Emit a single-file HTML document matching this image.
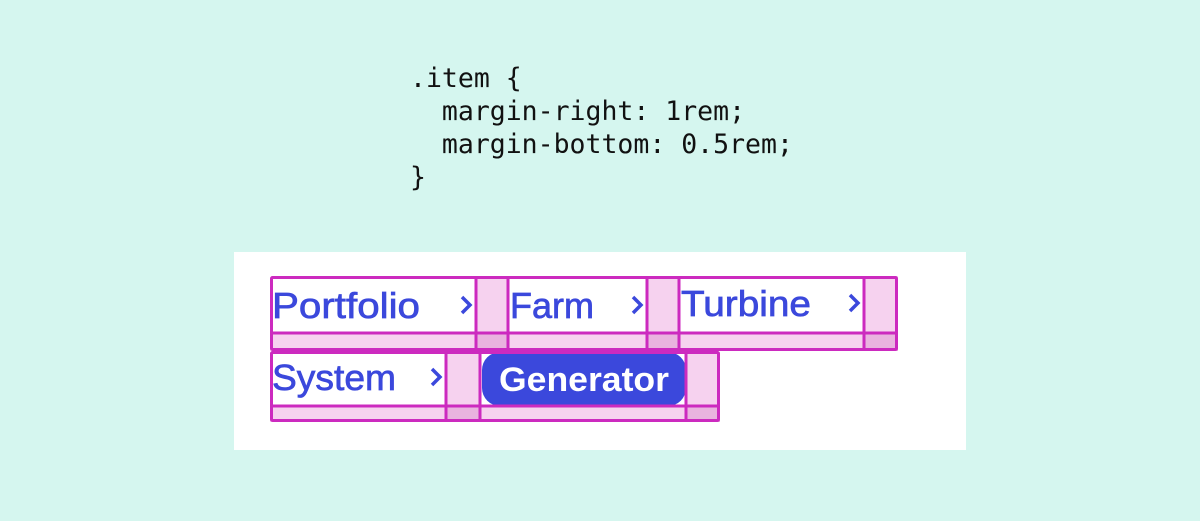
<!DOCTYPE html>
<html><head><meta charset="utf-8"><style>
html,body{margin:0;padding:0;}
body{width:1200px;height:521px;background:#d5f6ef;position:relative;overflow:hidden;}
</style></head><body>
<svg width="1200" height="521" style="position:absolute;left:0;top:0">
<g font-family="DejaVu Sans Mono, Liberation Mono, monospace" font-size="26.5" fill="#111">
<text x="410" y="87" xml:space="preserve">.item {</text>
<text x="410" y="120" xml:space="preserve">  margin-right: 1rem;</text>
<text x="410" y="153" xml:space="preserve">  margin-bottom: 0.5rem;</text>
<text x="410" y="186" xml:space="preserve">}</text>
</g>
<rect x="234" y="252" width="732" height="198" fill="#fff"/>
<g fill="#f6d2ef">
<rect x="270" y="333" width="628" height="18"/>
<rect x="476" y="276" width="32" height="75"/>
<rect x="647" y="276" width="32" height="75"/>
<rect x="864" y="276" width="34" height="75"/>
<rect x="270" y="405" width="450" height="17"/>
<rect x="446" y="352" width="34" height="70"/>
<rect x="686" y="352" width="34" height="70"/>
</g>
<g fill="#e9b3df">
<rect x="476" y="333" width="32" height="18"/>
<rect x="647" y="333" width="32" height="18"/>
<rect x="864" y="333" width="34" height="18"/>
<rect x="446" y="405" width="34" height="17"/>
<rect x="686" y="405" width="34" height="17"/>
</g>
<rect x="482" y="352" width="204" height="54" rx="18" fill="#3b48dc"/>
<g fill="none" stroke="#cc2abf" stroke-width="3">
<rect x="271.5" y="277.5" width="625" height="72" rx="1"/>
<line x1="270" y1="333" x2="898" y2="333"/>
<line x1="476" y1="276" x2="476" y2="351"/>
<line x1="508" y1="276" x2="508" y2="351"/>
<line x1="647" y1="276" x2="647" y2="351"/>
<line x1="679" y1="276" x2="679" y2="351"/>
<line x1="864" y1="276" x2="864" y2="351"/>
<rect x="271.5" y="352.5" width="447" height="68" rx="1"/>
<line x1="270" y1="406" x2="720" y2="406"/>
<line x1="446" y1="352" x2="446" y2="422"/>
<line x1="480" y1="352" x2="480" y2="422"/>
<line x1="686" y1="352" x2="686" y2="422"/>
</g>
<g font-family="Liberation Sans, sans-serif" font-size="36" fill="#3b48dc" stroke="#3b48dc" stroke-width="0.7">
<text x="272" y="318" textLength="148" lengthAdjust="spacingAndGlyphs">Portfolio</text>
<text x="510" y="318" textLength="84" lengthAdjust="spacingAndGlyphs">Farm</text>
<text x="681" y="316" textLength="130" lengthAdjust="spacingAndGlyphs">Turbine</text>
<text x="272" y="390" textLength="124" lengthAdjust="spacingAndGlyphs">System</text>
</g>
<g fill="none" stroke="#3b48dc" stroke-width="3.5">
<polyline points="462,297 470,305 462,313"/>
<polyline points="633,297 641,305 633,313"/>
<polyline points="850,295 858,303 850,311"/>
<polyline points="432,369 440,377 432,385"/>
</g>
<text x="584" y="391" text-anchor="middle" font-family="Liberation Sans, sans-serif" font-size="34" font-weight="bold" fill="#fff" textLength="170" lengthAdjust="spacingAndGlyphs">Generator</text>
</svg>
</body></html>
